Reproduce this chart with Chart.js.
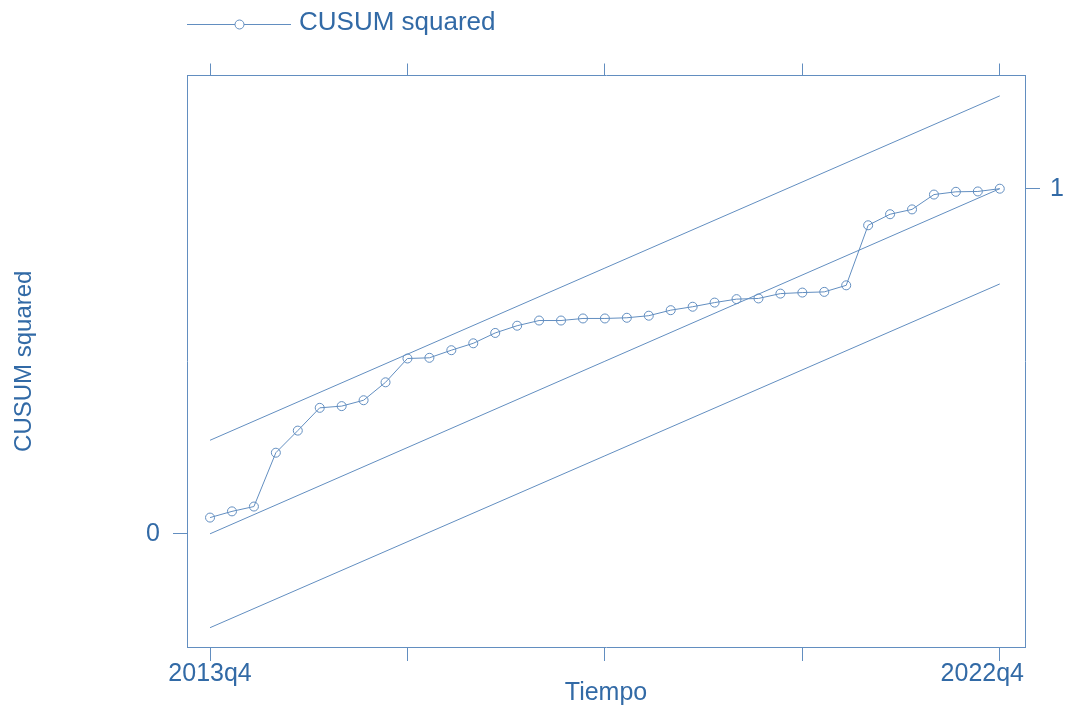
<!DOCTYPE html>
<html>
<head>
<meta charset="utf-8">
<title>CUSUM squared</title>
<script src="https://cdn.jsdelivr.net/npm/chart.js@4.4.1/dist/chart.umd.min.js"></script>
<style>
    body { margin: 0; background: #ffffff; }
    #chart { display: block; }
</style>
</head>
<body>
<canvas id="chart" width="1073" height="717"></canvas>
<script>
'use strict';

// data
const quarters = ['2013q4', '2014q1', '2014q2', '2014q3', '2014q4', '2015q1', '2015q2', '2015q3', '2015q4',
    '2016q1', '2016q2', '2016q3', '2016q4', '2017q1', '2017q2', '2017q3', '2017q4',
    '2018q1', '2018q2', '2018q3', '2018q4', '2019q1', '2019q2', '2019q3', '2019q4',
    '2020q1', '2020q2', '2020q3', '2020q4', '2021q1', '2021q2', '2021q3', '2021q4',
    '2022q1', '2022q2', '2022q3', '2022q4'];
const cusumSquared = [0.047, 0.065, 0.079, 0.235, 0.299, 0.365, 0.370, 0.387, 0.439,
    0.508, 0.510, 0.532, 0.552, 0.582, 0.603, 0.618, 0.618,
    0.624, 0.624, 0.626, 0.632, 0.648, 0.658, 0.670, 0.680,
    0.682, 0.696, 0.699, 0.701, 0.720, 0.894, 0.926, 0.940,
    0.983, 0.991, 0.992, 1.000];

const boundQuarters = ['2013q4', '2022q4'];
const upperBound = [0.271, 1.269];
const expectedLine = [0, 1];
const lowerBound = [-0.272, 0.724];

const tickQuarters = ['2013q4', '2016q1', '2018q2', '2020q3', '2022q4'];
const labeledQuarters = ['2013q4', '2022q4'];
const leftTicks = [0];
const rightTicks = [1];

const lineColor = 'rgb(98, 142, 192)';
const textColor = 'rgb(50, 106, 166)';
const fontFamily = '"Liberation Sans", Arial, sans-serif';

function toPoints(names, values) {
    const pts = [];
    for (let i = 0; i < names.length; i++) {
        pts.push({ x: quarters.indexOf(names[i]), y: values[i] });
    }
    return pts;
}

function lineSet(names, values) {
    return {
        data: toPoints(names, values),
        borderColor: lineColor,
        borderWidth: 1,
        pointRadius: 0,
        fill: false
    };
}

// legend: line with a hollow circle, then the label
const legendPlugin = {
    id: 'stataLegend',
    afterDraw(chart) {
        const ctx = chart.ctx;
        ctx.save();
        ctx.strokeStyle = lineColor;
        ctx.lineWidth = 1;
        ctx.beginPath();
        ctx.moveTo(187, 24.5);
        ctx.lineTo(291, 24.5);
        ctx.stroke();
        ctx.fillStyle = '#ffffff';
        ctx.beginPath();
        ctx.arc(239.5, 24.5, 4.5, 0, Math.PI * 2);
        ctx.fill();
        ctx.stroke();
        ctx.fillStyle = textColor;
        ctx.font = '26px ' + fontFamily;
        ctx.textBaseline = 'alphabetic';
        ctx.fillText('CUSUM squared', 299, 30);
        ctx.restore();
    }
};

// the last time label is pulled in so it ends at the plot border
const lastLabelPlugin = {
    id: 'lastLabelInside',
    beforeDraw(chart) {
        const scale = chart.scales.x;
        const items = scale.getLabelItems();
        const last = items[items.length - 1];
        if (last && last.label) {
            last.options.textAlign = 'right';
            last.options.translation[0] = chart.chartArea.right - 1;
        }
    }
};

const xMin = -1.05;
const xMax = 37.15;
const yMin = -0.328;
const yMax = 1.328;

const tickFont = { family: fontFamily, size: 25, lineHeight: 1 };

const context = document.getElementById('chart').getContext('2d');
const chart = new Chart(context, {
    type: 'line',
    data: {
        datasets: [
            lineSet(boundQuarters, upperBound),
            lineSet(boundQuarters, expectedLine),
            lineSet(boundQuarters, lowerBound),
            {
                label: 'CUSUM squared',
                data: toPoints(quarters, cusumSquared),
                borderColor: lineColor,
                borderWidth: 1,
                pointRadius: 4.5,
                pointBorderWidth: 1,
                pointBorderColor: lineColor,
                pointBackgroundColor: 'rgba(255,255,255,0)',
                fill: false,
                tension: 0
            }
        ]
    },
    options: {
        responsive: false,
        animation: false,
        devicePixelRatio: 1,
        layout: { padding: { top: 63, left: 0, right: 0, bottom: 0 } },
        plugins: {
            legend: { display: false },
            tooltip: { enabled: false }
        },
        scales: {
            x: {
                type: 'linear',
                position: 'bottom',
                min: xMin,
                max: xMax,
                afterBuildTicks: function (scale) {
                    scale.ticks = tickQuarters.map(q => ({ value: quarters.indexOf(q) }));
                },
                afterFit: function (scale) { scale.height = 70; },
                grid: { drawOnChartArea: false, drawTicks: true, tickLength: 14, color: lineColor, lineWidth: 1 },
                border: { display: true, color: lineColor, width: 1 },
                ticks: {
                    maxRotation: 0,
                    autoSkip: false,
                    padding: 1,
                    color: textColor,
                    font: tickFont,
                    callback: function (value) {
                        const q = quarters[value];
                        return labeledQuarters.includes(q) ? q : '';
                    }
                },
                title: {
                    display: true,
                    text: 'Tiempo',
                    color: textColor,
                    font: { family: fontFamily, size: 25, lineHeight: 1.2 },
                    padding: { top: 0, bottom: 9 }
                }
            },
            x2: {
                type: 'linear',
                position: 'top',
                min: xMin,
                max: xMax,
                afterBuildTicks: function (scale) {
                    scale.ticks = tickQuarters.map(q => ({ value: quarters.indexOf(q) }));
                },
                afterFit: function (scale) { scale.height = 12.5; },
                grid: { drawOnChartArea: false, drawTicks: true, tickLength: 12, color: lineColor, lineWidth: 1 },
                border: { display: true, color: lineColor, width: 1 },
                ticks: { display: false }
            },
            y: {
                type: 'linear',
                position: 'left',
                min: yMin,
                max: yMax,
                afterBuildTicks: function (scale) {
                    scale.ticks = leftTicks.map(v => ({ value: v }));
                },
                afterFit: function (scale) { scale.width = 187; },
                grid: { drawOnChartArea: false, drawTicks: true, tickLength: 14, color: lineColor, lineWidth: 1 },
                border: { display: true, color: lineColor, width: 1 },
                ticks: { padding: 13, color: textColor, font: tickFont },
                title: {
                    display: true,
                    text: 'CUSUM squared',
                    color: textColor,
                    font: { family: fontFamily, size: 24, lineHeight: 1.2 },
                    padding: { top: 10, bottom: 0 }
                }
            },
            y2: {
                type: 'linear',
                position: 'right',
                min: yMin,
                max: yMax,
                afterBuildTicks: function (scale) {
                    scale.ticks = rightTicks.map(v => ({ value: v }));
                },
                afterFit: function (scale) { scale.width = 48; },
                grid: { drawOnChartArea: false, drawTicks: true, tickLength: 15, color: lineColor, lineWidth: 1 },
                border: { display: true, color: lineColor, width: 1 },
                ticks: { padding: 10, color: textColor, font: tickFont }
            }
        }
    },
    plugins: [legendPlugin, lastLabelPlugin]
});
</script>
</body>
</html>
